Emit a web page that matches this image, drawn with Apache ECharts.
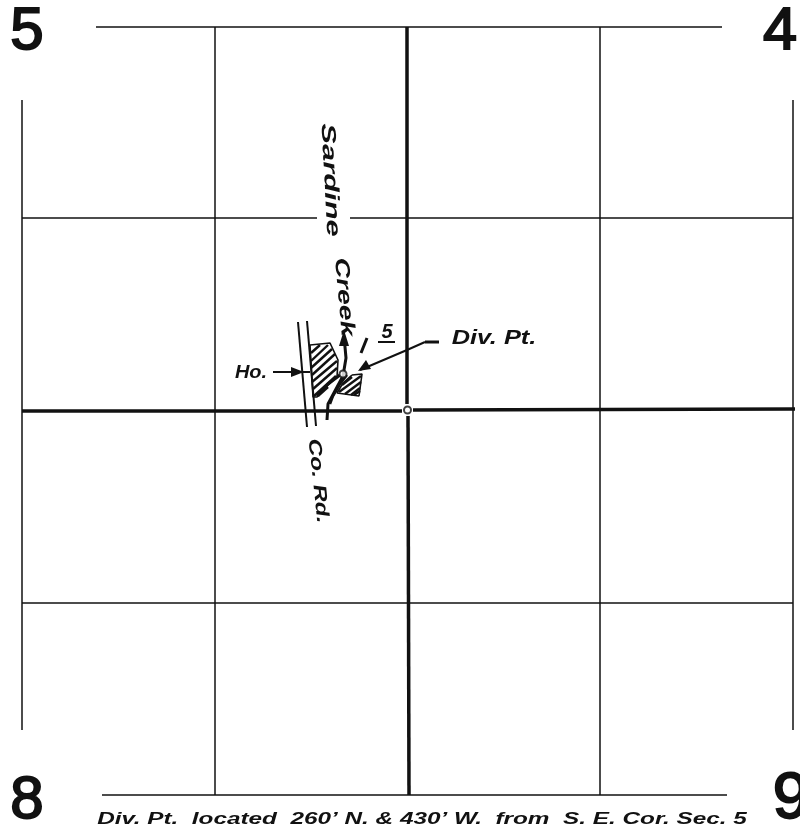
<!DOCTYPE html>
<html><head><meta charset="utf-8">
<style>html,body{margin:0;background:#fff}#c{width:800px;height:830px}</style>
<script src="https://cdn.jsdelivr.net/npm/echarts@6/dist/echarts.min.js"></script></head>
<body><div id="c"></div>
<script>
// Section-map geometry in sheet units
const thinLines = [
  [[96,27],[722,27]], [[102,795],[727,795]],
  [[22,100],[22,730]], [[793,100],[793,730]],
  [[215,27],[215,795]], [[600,27],[600,795]],
  [[22,218],[317,218]], [[350,218],[793,218]],
  [[22,603],[793,603]]
];
const heavyLines = [
  [[407,27],[407,404]], [[408,416],[409,795]],
  [[22,411],[402,411]], [[413,410],[795,409]]
];
const roadLines = [ [[298,322],[307,427]], [[307,321],[316,426]] ];
const creekLine = [[327,420],[328,404],[336,389],[343,376],[346,358],[344,336]];
const creekBank = [[330,404],[333,396],[340,384],[347,375]];
const leaderLines = [ [[425,342],[407,350],[360,370]], [[273,372],[310,372]], [[378,342],[395,342]] ];
const heavyStrokes = [ [[425,342],[439,342]], [[361,353],[367,338]], [[317,396],[328,384],[340,375]] ];
const outlineA = [[310,345],[330,343],[338,360],[337,377],[325,388],[317,397],[313,397],[310,345]];
const outlineB = [[352,375],[362,374],[359,396],[337,393],[343,383],[352,375]];
const hatchLines = [
  [[311,353],[320,345]], [[311,361],[328,345]], [[311,368],[332,349]], [[312,375],[335,354]], [[312,382],[337,361]],
  [[313,389],[337,368]], [[314,396],[336,376]], [[318,396],[328,387]],
  [[339,392],[361,376]], [[345,394],[361,382]], [[351,395],[360,388]], [[342,385],[352,377]], [[354,395],[360,391]]
];
const arrowHeads = [ [[344,330],[339,346],[349,346]], [[358,371],[371,369],[366,360]], [[304,372],[291,367],[291,377]] ];
const cornerNumbers = [['5',27,32,0,60,1],['4',780,32,0,60,1.02],['8',27,801,0,60,1],['9',791,800,0,64,1.02]];
const smallLabels = [
  ['Div. Pt.',494,338,0,20,1.27], ['Ho.',251,373,0,19,1.05],
  ['5',387,332,0,20,1],
  ['Sardine',330,180,-87,20,1.55], ['Creek',344,297,-85,20,1.42],
  ['Co. Rd.',318,481,-84,18,1.35],
  ['Div. Pt.  located  260\u2019 N. & 430\u2019 W.  from  S. E. Cor. Sec. 5',422,820,0,16,1.52]
];
const junctions = [[407.5,410],[343,374]];

const lineSeries = (list, width) => list.map(pts => ({
  type:'line', data:pts, symbol:'none', silent:true, animation:false,
  lineStyle:{color:'#111',width}, z:3
}));
const polygonSeries = list => list.map(pts => ({
  type:'custom', coordinateSystem:'cartesian2d', silent:true, animation:false, z:4,
  data:pts, encode:{x:0,y:1},
  renderItem:(p,api)=> p.dataIndex ? null : {type:'polygon',
    shape:{points:pts.map(q=>api.coord(q))}, style:{fill:'#111'}}
}));
const textItem = (rows, weight, stroke) => ({
  type:'custom', coordinateSystem:'cartesian2d', silent:true, animation:false, z:6,
  data:rows.map(r=>[r[1],r[2]]), encode:{x:0,y:1},
  renderItem:(p,api)=>{
    const r=rows[p.dataIndex], pos=api.coord([r[1],r[2]]);
    return {type:'text',x:pos[0],y:pos[1],rotation:r[3]*Math.PI/180,scaleX:r[5],scaleY:1,
      style:{text:r[0],fontFamily:'Liberation Sans',fontWeight:weight,fontStyle:weight==='bold'?'italic':'normal',
      fontSize:r[4],fill:'#111',stroke:stroke?'#111':null,lineWidth:stroke,lineJoin:'round',align:'center',verticalAlign:'middle'}};
  }
});
const series = [
  ...lineSeries(thinLines,1.5),
  ...lineSeries(heavyLines,3.5),
  ...lineSeries(roadLines,2),
  ...lineSeries([creekLine],3),
  ...lineSeries([creekBank],2.5),
  ...lineSeries(leaderLines,2),
  ...lineSeries(heavyStrokes,3),
  ...lineSeries([outlineA,outlineB],1.6),
  ...lineSeries(hatchLines,2.4),
  ...polygonSeries(arrowHeads),
  {type:'scatter',data:junctions,symbolSize:7,silent:true,animation:false,z:5,
   itemStyle:{color:'#fff',borderColor:'#111',borderWidth:2}},
  textItem(cornerNumbers,'normal',2),
  textItem(smallLabels,'bold',0)
];
const chart = echarts.init(document.getElementById('c'),null,{renderer:'canvas'});
chart.setOption({
  animation:false, backgroundColor:'#fff',
  grid:{left:0,right:0,top:0,bottom:0},
  xAxis:{type:'value',min:0,max:800,show:false},
  yAxis:{type:'value',min:0,max:830,inverse:true,show:false},
  series
});
</script></body></html>
